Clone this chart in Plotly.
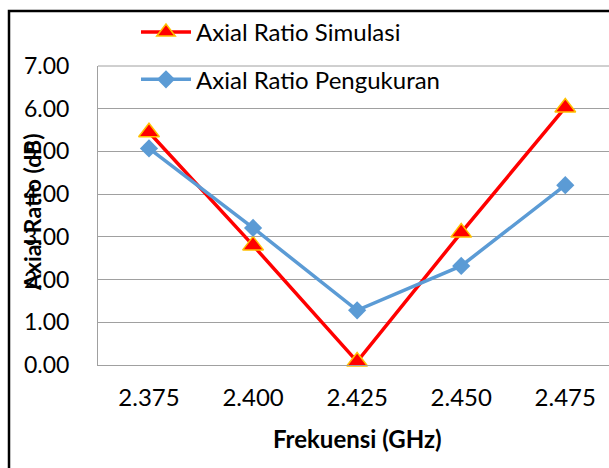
import plotly.graph_objects as go

categories = ["2.375", "2.400", "2.425", "2.450", "2.475"]
simulasi = [5.45, 2.80, 0.08, 3.10, 6.03]
pengukuran = [5.07, 3.21, 1.28, 2.32, 4.21]
y_ticks = [0, 1, 2, 3, 4, 5, 6, 7]

FONT = "Lato"
L, R, T, B = 98, 0, 66, 103
W, H = 609, 468
pw, ph = W - L - R, H - T - B

fig = go.Figure()
fig.add_trace(go.Scatter(
    x=categories, y=simulasi, mode="lines+markers", name="Axial Ratio Simulasi",
    line=dict(color="#FF0000", width=3.5),
    marker=dict(symbol="triangle-up", size=18, color="#FF0000",
                line=dict(color="#FFC000", width=1.5)),
    cliponaxis=False, legendgroup="a"))
fig.add_trace(go.Scatter(
    x=categories, y=pengukuran, mode="lines+markers", name="Axial Ratio Pengukuran",
    line=dict(color="#5B9BD5", width=3.5),
    marker=dict(symbol="diamond", size=14, color="#5B9BD5"),
    cliponaxis=False, legendgroup="b"))

fig.update_layout(
    width=W, height=H,
    margin=dict(l=L, r=R, t=T, b=B, autoexpand=False),
    paper_bgcolor="white", plot_bgcolor="white",
    font=dict(family=FONT, size=24, color="black"),
    showlegend=True,
    legend=dict(x=(136 - L) / pw, y=(H - B - 10) / ph,
                xanchor="left", yanchor="top", bgcolor="rgba(0,0,0,0)",
                font=dict(family=FONT, size=24), traceorder="grouped",
                tracegroupgap=13, itemwidth=50),
    xaxis=dict(type="category", range=[-0.49, 4.42], showgrid=False,
               showline=True, linecolor="#A0A0A0", linewidth=1, mirror=False,
               ticks="outside", ticklen=11, tickcolor="rgba(0,0,0,0)",
               tickfont=dict(family=FONT, size=24), zeroline=False),
    yaxis=dict(range=[0, 7], tickvals=y_ticks, tickformat=".2f",
               showgrid=True, gridcolor="#A0A0A0", gridwidth=1,
               showline=True, linecolor="#A0A0A0", linewidth=1,
               ticks="outside", ticklen=23, tickcolor="rgba(0,0,0,0)",
               tickfont=dict(family=FONT, size=23), zeroline=False),
)

fig.add_shape(type="line", xref="paper", yref="paper", x0=0, x1=1, y0=1, y1=1,
              line=dict(color="#A0A0A0", width=1))

fig.add_annotation(text="<b>Frekuensi (GHz)</b>", xref="paper", yref="paper",
                   x=(357 - L) / pw, y=(H - B - 438) / ph, showarrow=False,
                   font=dict(family=FONT, size=24), xanchor="center", yanchor="middle")
fig.add_annotation(text="<b>Axial Ratio (dB)</b>", xref="paper", yref="paper",
                   x=(32 - L) / pw, y=(H - B - 212) / ph, showarrow=False, textangle=-90,
                   font=dict(family=FONT, size=23), xanchor="center", yanchor="middle")

# outer chart border
fig.add_shape(type="rect", xref="paper", yref="paper",
              x0=(9 - L) / pw, x1=(W + 20 - L) / pw,
              y0=(H - B - (H + 20)) / ph, y1=(H - B - 11) / ph,
              line=dict(color="black", width=2.5), layer="below")

fig.write_html("out.html", config={"displayModeBar": False},
               post_script="document.body.style.margin='0';document.body.style.overflow='hidden';")
